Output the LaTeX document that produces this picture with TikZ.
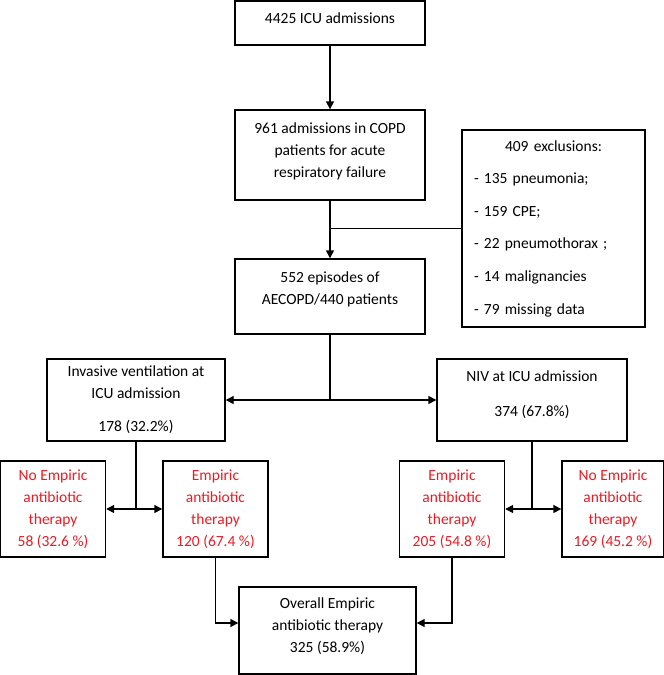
\documentclass[tikz,border=0pt]{standalone}
\usepackage{fontspec}
\setmainfont{Carlito}
\usetikzlibrary{arrows.meta}
\definecolor{flowred}{RGB}{226,30,38}
\newcommand{\lift}[1]{\rule[-#1]{0pt}{#1}}

\begin{document}
\begin{tikzpicture}[x=1pt,y=-1pt,
  box/.style={draw,line width=1.4pt,align=center,inner sep=2pt,font=\fontsize{15.5}{22}\selectfont},
  redbox/.style={box,text=flowred,minimum width=105pt,minimum height=96pt},
  link/.style={line width=1.4pt},
  arr/.style={link,-{Triangle[width=8pt,length=8pt]}},
  both/.style={link,{Triangle[width=8pt,length=8pt]}-{Triangle[width=8pt,length=8pt]}}]
  \useasboundingbox (0,0) rectangle (664,675);

  % main column
  \node[box,minimum width=190pt,minimum height=44pt] (icu) at (330,23) {4425 ICU admissions\lift{10pt}};
  \node[box,minimum width=190pt,minimum height=90pt] (copd) at (330,155)
    {961 admissions in COPD\\patients for acute\\respiratory failure\lift{10pt}};
  \node[box,minimum width=190pt,minimum height=75pt] (aecopd) at (330,296.5)
    {552 episodes of\\AECOPD/440 patients\lift{17pt}};
  \node[box,align=left,text width=159pt,inner xsep=12pt,minimum height=197pt] (excl) at (553.5,228.5)
    {\makebox[159pt]{409 exclusions:}\\[10.6pt]
     - 135 pneumonia;\\[10.6pt]
     - 159 CPE;\\[10.6pt]
     - 22 pneumothorax ;\\[10.6pt]
     - 14 malignancies\\[10.6pt]
     - 79 missing data};

  % ventilation groups
  \node[box,minimum width=178pt,minimum height=82pt] (inv) at (136,400)
    {Invasive ventilation at\\ICU admission\\[11pt]178 (32.2\%)};
  \node[box,minimum width=190pt,minimum height=82pt] (niv) at (532,400)
    {NIV at ICU admission\\[13pt]374 (67.8\%)\lift{13pt}};

  % antibiotic therapy
  \node[redbox] (invno) at (53,509) {No Empiric\\antibiotic\\therapy\\58 (32.6 \%)};
  \node[redbox] (invyes) at (215.5,509) {Empiric\\antibiotic\\therapy\\120 (67.4 \%)};
  \node[redbox] (nivyes) at (452,509) {Empiric\\antibiotic\\therapy\\205 (54.8 \%)};
  \node[redbox,minimum width=102pt] (nivno) at (613,509) {No Empiric\\antibiotic\\therapy\\169 (45.2 \%)};
  \node[box,minimum width=177pt,minimum height=87pt] (overall) at (327.5,630.5)
    {Overall Empiric\\antibiotic therapy\\325 (58.9\%)\lift{11pt}};

  \draw[arr] (icu) -- (copd);
  \draw[link] (excl.west) -- (excl.west -| copd.south);
  \draw[arr] (copd) -- (aecopd);
  \draw[link] (aecopd.south) -- (aecopd.south |- inv.east);
  \draw[both] (inv.east) -- (niv.west);
  \draw[link] (inv.south) -- (inv.south |- invno.east);
  \draw[both] (invno.east) -- (invyes.west);
  \draw[link] (niv.south) -- (niv.south |- nivyes.east);
  \draw[both] (nivyes.east) -- (nivno.west);
  \draw[arr] (invyes.south) |- ([yshift=7.5pt]overall.west);
  \draw[arr] (nivyes.south) |- ([yshift=7.5pt]overall.east);
\end{tikzpicture}
\end{document}
